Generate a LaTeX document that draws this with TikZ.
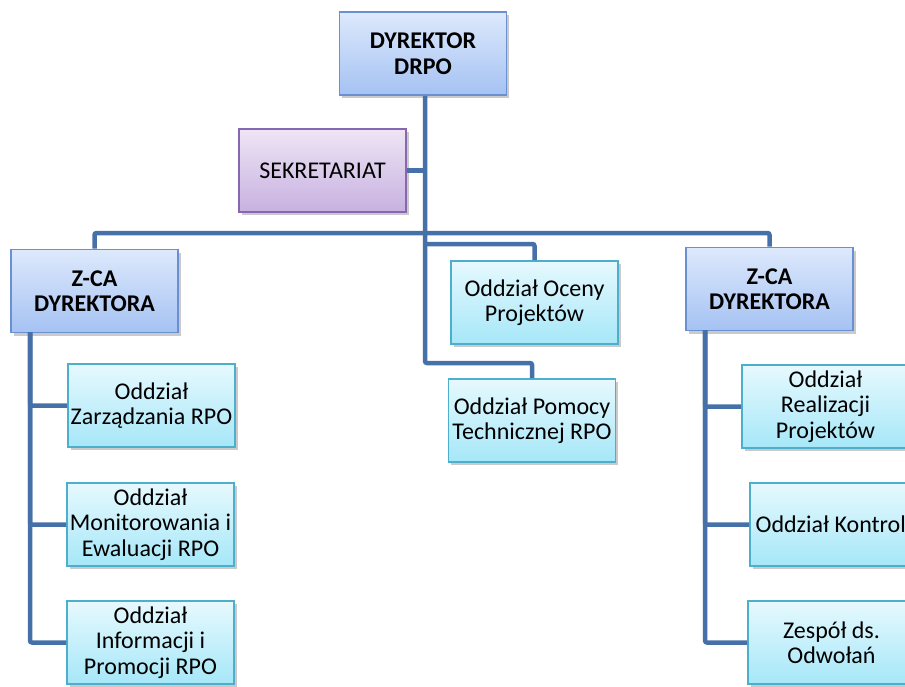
\documentclass[tikz,border=0pt]{standalone}
\usepackage{fontspec}
\setmainfont{Carlito}
\usetikzlibrary{shadows}
\definecolor{bTop}{HTML}{DDE9FC}
\definecolor{bBot}{HTML}{A5C2F3}
\definecolor{bLine}{HTML}{6A90D2}
\definecolor{cTop}{HTML}{E6F9FE}
\definecolor{cBot}{HTML}{A6E7F8}
\definecolor{cLine}{HTML}{4DAFCB}
\definecolor{pTop}{HTML}{EEE5F5}
\definecolor{pBot}{HTML}{C7B1E0}
\definecolor{pLine}{HTML}{8767AE}
\definecolor{conn}{HTML}{4671A8}
\tikzset{
  orgbox/.style={rectangle, minimum width=167pt, minimum height=83pt, inner sep=0pt,
    line width=1.6pt, align=center, font=\fontsize{24}{25.5}\selectfont,
    drop shadow={shadow xshift=2.5pt, shadow yshift=-3pt, opacity=0.35, fill=black!60}},
  bluebox/.style={orgbox, draw=bLine, top color=bTop, bottom color=bBot},
  cyanbox/.style={orgbox, draw=cLine, top color=cTop, bottom color=cBot},
  purplebox/.style={orgbox, draw=pLine, top color=pTop, bottom color=pBot},
  boldtext/.style={font=\fontsize{24}{25.5}\selectfont\bfseries},
  connector/.style={draw=conn, line width=4.5pt, rounded corners=2pt}
}
\begin{document}
\begin{tikzpicture}[x=1pt,y=-1pt]
\useasboundingbox (0,0) rectangle (905,686);
\clip (0,0) rectangle (905,686);
\node[bluebox, boldtext] (dir) at (423,53.5) {DYREKTOR\\DRPO};
\node[purplebox] (sek) at (322.5,170.5) {SEKRETARIAT};
\node[bluebox, boldtext] (zl) at (94.5,291) {Z-CA\\DYREKTORA};
\node[bluebox, boldtext] (zr) at (769.5,289) {Z-CA\\DYREKTORA};
\node[cyanbox] (oc) at (534.5,302.5) {Oddział Oceny\\Projektów};
\node[cyanbox] (pom) at (532,420.5) {Oddział Pomocy\\Technicznej RPO};
\node[cyanbox] (zar) at (151.5,405.5) {Oddział\\Zarządzania RPO};
\node[cyanbox] (mon) at (150.5,524.5) {Oddział\\Monitorowania i\\Ewaluacji RPO};
\node[cyanbox] (inf) at (150.5,642.5) {Oddział\\Informacji i\\Promocji RPO};
\node[cyanbox] (rea) at (825.5,406.5) {Oddział\\Realizacji\\Projektów};
\node[cyanbox] (kon) at (833.5,524.5) {Oddział Kontroli};
\node[cyanbox] (zes) at (831.5,642.5) {Zespół ds.\\Odwołań};
\coordinate (trunkend) at (425,363);
\coordinate (bar) at (425,233);
\coordinate (ocb) at (425,244);
\coordinate (lc) at (30,332);
\coordinate (rc) at (705,330);
\draw[connector] (dir.south -| trunkend) -- (trunkend) -| (pom.north);
\draw[connector] (sek.east) -- (sek.east -| trunkend);
\draw[connector] (zl.north) |- (bar) -| (zr.north);
\draw[connector] (ocb) -| (oc.north);
\draw[connector] (lc) |- (zar.west);
\draw[connector] (lc) |- (mon.west);
\draw[connector] (lc) |- (inf.west);
\draw[connector] (rc) |- (rea.west);
\draw[connector] (rc) |- (kon.west);
\draw[connector] (rc) |- (zes.west);
\end{tikzpicture}
\end{document}
